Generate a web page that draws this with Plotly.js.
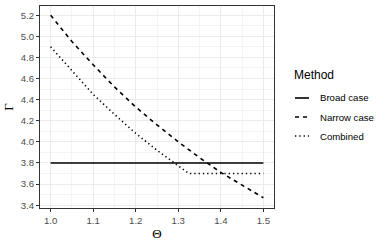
<!DOCTYPE html>
<html><head><meta charset="utf-8">
<script src="https://cdn.plot.ly/plotly-3.0.1.min.js"></script>
<style>html,body{margin:0;padding:0;background:#fff}#chart{width:385px;height:244px}</style>
</head><body><div id="chart"></div>
<script>
var theta = [1.0, 1.05, 1.1, 1.15, 1.2, 1.25, 1.3, 1.35, 1.4, 1.45, 1.5];
var broad = [3.8, 3.8, 3.8, 3.8, 3.8, 3.8, 3.8, 3.8, 3.8, 3.8, 3.8];
var narrow = [5.2, 4.95, 4.73, 4.52, 4.33, 4.16, 4.0, 3.85, 3.71, 3.59, 3.47];
var thetaCombined = [1.0, 1.05, 1.1, 1.15, 1.2, 1.25, 1.3, 1.325, 1.35, 1.4, 1.45, 1.5];
var combined = [4.9, 4.67, 4.45, 4.26, 4.08, 3.92, 3.77, 3.7, 3.7, 3.7, 3.7, 3.7];
var seriesNames = ['Broad case', 'Narrow case', 'Combined'];
var legendTitle = 'Method';

var dashes = ['solid', '4px,4px', '1.3px,3px'];
var traces = [
  {x: theta, y: broad, mode: 'lines', name: seriesNames[0], line: {color: '#000', width: 1.6, dash: dashes[0]}},
  {x: theta, y: narrow, mode: 'lines', name: seriesNames[1], line: {color: '#000', width: 1.6, dash: dashes[1]}},
  {x: thetaCombined, y: combined, mode: 'lines', name: seriesNames[2], line: {color: '#000', width: 1.6, dash: dashes[2]}}
];

var shapes = [], annotations = [];
var lx0 = 295, lx1 = 309, ly = [98, 117, 136];
function px(x){ return (x - 40) / 234; }
function py(y){ return 1 - (y - 6) / 202; }
for (var i = 0; i < 3; i++) {
  shapes.push({type: 'line', xref: 'paper', yref: 'paper', x0: px(lx0), x1: px(lx1), y0: py(ly[i]), y1: py(ly[i]),
    line: {color: '#000', width: 1.6, dash: dashes[i]}});
  annotations.push({xref: 'paper', yref: 'paper', x: px(318), y: py(ly[i]), xanchor: 'left', yanchor: 'middle',
    text: seriesNames[i], showarrow: false, font: {family: 'Liberation Sans, Arial', size: 9.6, color: '#000'}});
}
annotations.push({xref: 'paper', yref: 'paper', x: px(292), y: py(75), xanchor: 'left', yanchor: 'middle',
  text: legendTitle, showarrow: false, font: {family: 'Liberation Sans, Arial', size: 12, color: '#000'}});

var axCommon = {
  showline: true, mirror: true, linecolor: '#333333', linewidth: 1,
  ticks: 'outside', ticklen: 3, tickwidth: 1, tickcolor: '#333333',
  showgrid: true, gridcolor: '#EBEBEB', gridwidth: 1, zeroline: false,
  tickfont: {family: 'Liberation Sans, Arial', size: 9.6, color: '#4D4D4D'},
  tickformat: '.1f'
};
var layout = {
  width: 385, height: 244,
  margin: {l: 40, r: 111, t: 6, b: 36},
  paper_bgcolor: '#fff', plot_bgcolor: '#fff',
  showlegend: false,
  xaxis: Object.assign({}, axCommon, {range: [0.975, 1.525], dtick: 0.1, tick0: 1.0,
    minor: {dtick: 0.05, showgrid: true, gridcolor: '#F4F4F4', gridwidth: 1, ticks: ''},
    title: {text: 'Θ', standoff: 4, font: {family: 'Liberation Serif, serif', size: 13, color: '#000'}}}),
  yaxis: Object.assign({}, axCommon, {range: [3.373, 5.287], dtick: 0.2, tick0: 3.4,
    minor: {dtick: 0.1, showgrid: true, gridcolor: '#F4F4F4', gridwidth: 1, ticks: ''},
    title: {text: 'Γ', standoff: 4, font: {family: 'Liberation Serif, serif', size: 13, color: '#000'}}}),
  shapes: shapes,
  annotations: annotations
};
Plotly.newPlot('chart', traces, layout, {staticPlot: true, displayModeBar: false});
</script></body></html>
